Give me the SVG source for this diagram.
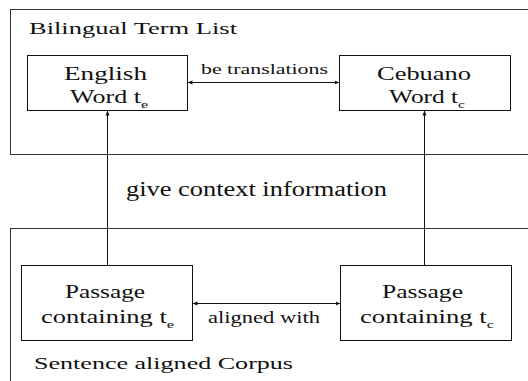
<svg xmlns="http://www.w3.org/2000/svg" width="528" height="381" viewBox="0 0 528 381">
<style>
  .frame{fill:none;stroke:#333;stroke-width:1}
  .box{fill:#fff;stroke:#111;stroke-width:1}
  .t{font-family:'Liberation Serif','Times New Roman',serif;fill:#111}
  .big{font-size:18px}
  .sub{font-size:11px}
  .edge{stroke:#111;stroke-width:1;fill:none}
</style>
<defs>
  <marker id="ah" markerUnits="userSpaceOnUse" markerWidth="6" markerHeight="5" refX="5" refY="2.5" orient="auto-start-reverse">
    <path d="M0,0.5 L5,2.5 L0,4.5 Z" fill="#111"/>
  </marker>
</defs>
<g id="bilingual-term-list">
  <rect class="frame" x="10.5" y="9.5" width="530" height="145"/>
  <text class="t" x="29" y="33.5" font-size="16.5" textLength="208" lengthAdjust="spacingAndGlyphs">Bilingual Term List</text>
</g>
<g id="sentence-aligned-corpus">
  <rect class="frame" x="10.5" y="228.5" width="530" height="200"/>
  <text class="t" x="34" y="369" font-size="16.5" textLength="259" lengthAdjust="spacingAndGlyphs">Sentence aligned Corpus</text>
</g>
<g id="english-word">
  <rect class="box" x="27.5" y="55.5" width="160" height="55"/>
  <text class="t big" x="64" y="80" textLength="83" lengthAdjust="spacingAndGlyphs">English</text>
  <text class="t big" x="70" y="103" textLength="78" lengthAdjust="spacingAndGlyphs">Word t<tspan class="sub" dy="5">e</tspan></text>
</g>
<g id="cebuano-word">
  <rect class="box" x="339.5" y="55.5" width="171" height="55"/>
  <text class="t big" x="377" y="80" textLength="94" lengthAdjust="spacingAndGlyphs">Cebuano</text>
  <text class="t big" x="389" y="103" textLength="76" lengthAdjust="spacingAndGlyphs">Word t<tspan class="sub" dy="5">c</tspan></text>
</g>
<g id="passage-english">
  <rect class="box" x="21.5" y="265.5" width="171" height="75"/>
  <text class="t big" x="65" y="298" textLength="80" lengthAdjust="spacingAndGlyphs">Passage</text>
  <text class="t big" x="41" y="323" textLength="133" lengthAdjust="spacingAndGlyphs">containing t<tspan class="sub" dy="5">e</tspan></text>
</g>
<g id="passage-cebuano">
  <rect class="box" x="340.5" y="265.5" width="171" height="75"/>
  <text class="t big" x="382" y="298" textLength="81" lengthAdjust="spacingAndGlyphs">Passage</text>
  <text class="t big" x="360" y="323" textLength="134" lengthAdjust="spacingAndGlyphs">containing t<tspan class="sub" dy="5">c</tspan></text>
</g>
<g id="connectors">
  <line class="edge" x1="187.5" y1="82.5" x2="339.5" y2="82.5" marker-start="url(#ah)" marker-end="url(#ah)"/>
  <text class="t" x="201" y="74" font-size="15.5" textLength="127" lengthAdjust="spacingAndGlyphs">be translations</text>
  <line class="edge" x1="192.5" y1="303.5" x2="340.5" y2="303.5" marker-start="url(#ah)" marker-end="url(#ah)"/>
  <text class="t" x="208" y="322.5" font-size="16" textLength="112" lengthAdjust="spacingAndGlyphs">aligned with</text>
  <line class="edge" x1="107.5" y1="265.5" x2="107.5" y2="110.5" marker-end="url(#ah)"/>
  <line class="edge" x1="424.5" y1="265.5" x2="424.5" y2="110.5" marker-end="url(#ah)"/>
  <text class="t" x="126" y="195.5" font-size="20" textLength="261" lengthAdjust="spacingAndGlyphs">give context information</text>
</g>
</svg>
